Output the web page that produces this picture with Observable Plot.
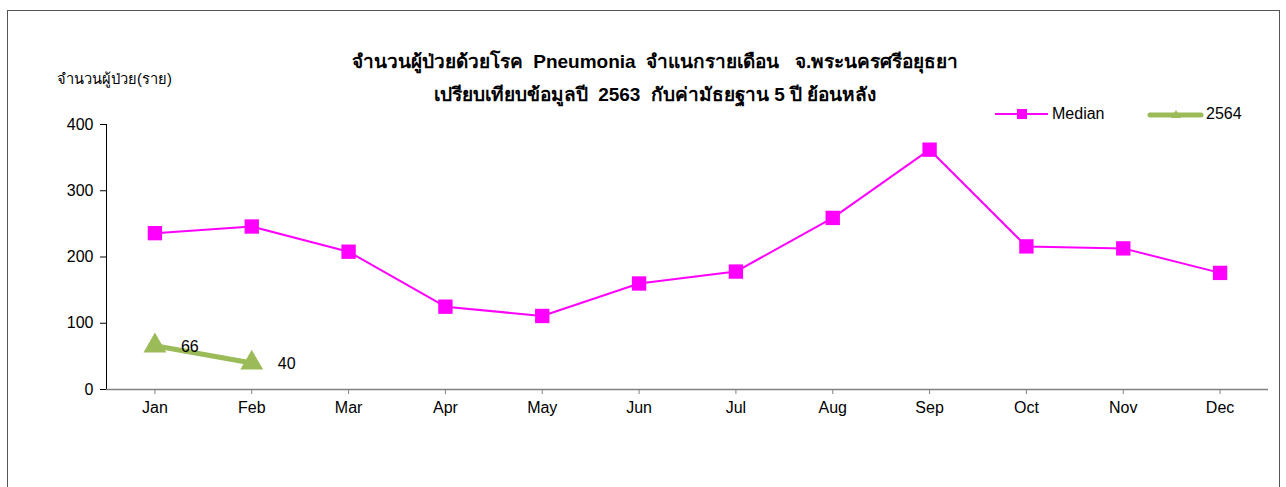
<!DOCTYPE html>
<html><head><meta charset="utf-8">
<script src="https://cdn.jsdelivr.net/npm/d3@7"></script>
<script src="https://cdn.jsdelivr.net/npm/@observablehq/plot@0.6"></script>
<style>
body{margin:0;background:#fff;font-family:"Liberation Sans",Arial,"Noto Sans","DejaVu Sans",sans-serif;color:#000}
#wrap{position:relative;width:1286px;height:487px;overflow:hidden;background:#fff}
#frame{position:absolute;left:7px;top:10px;width:1273px;height:520px;border:1px solid #555;box-sizing:border-box;pointer-events:none}
#chart{position:absolute;left:0;top:0}
.title{position:absolute;left:255px;width:800px;text-align:center;font-weight:bold;font-size:19px;white-space:nowrap}
#ylab{position:absolute;left:57px;top:67px;font-size:14.7px;white-space:nowrap}
.leg{position:absolute;font-size:16px;white-space:nowrap;display:flex;align-items:center}
</style></head>
<body>
<div id="wrap">
  <div id="chart"></div>
  <div class="title" style="top:46px">จำนวนผู้ป่วยด้วยโรค&nbsp; Pneumonia&nbsp; จำแนกรายเดือน&nbsp;&nbsp; จ.พระนครศรีอยุธยา</div>
  <div class="title" style="top:79px">เปรียบเทียบข้อมูลปี&nbsp; 2563&nbsp; กับค่ามัธยฐาน 5 ปี ย้อนหลัง</div>
  <div id="ylab">จำนวนผู้ป่วย(ราย)</div>
  <div class="leg" style="left:995px;top:104px">
    <svg width="55" height="20"><line x1="0" y1="10" x2="53" y2="10" stroke="#FF00FF" stroke-width="2"/><rect x="22" y="5" width="10" height="10" fill="#FF00FF"/></svg>
    <span style="margin-left:2px">Median</span>
  </div>
  <div class="leg" style="left:1147px;top:104px">
    <svg width="58" height="20"><line x1="3" y1="11" x2="54" y2="11" stroke="#9BBB59" stroke-width="5" stroke-linecap="round"/><path d="M29 6 L34 14 L24 14 Z" fill="#9BBB59"/></svg>
    <span style="margin-left:1px">2564</span>
  </div>
  <div id="frame"></div>
</div>
<script>
const months = ["Jan","Feb","Mar","Apr","May","Jun","Jul","Aug","Sep","Oct","Nov","Dec"];
const medianValues = [236, 246, 208, 125, 111, 160, 178, 259, 362, 216, 213, 176];
const values2564 = [66, 40];
const yTicks = [0, 100, 200, 300, 400];

const medianData = months.map((m, i) => ({month: m, value: medianValues[i]}));
const data2564 = values2564.map((v, i) => ({month: months[i], value: v}));

const chart = Plot.plot({
  width: 1286,
  height: 487,
  marginLeft: 106,
  marginRight: 18,
  marginTop: 124,
  marginBottom: 98,
  style: {fontFamily: '"Liberation Sans", Arial, sans-serif', fontSize: "16px", color: "#000", background: "transparent", overflow: "visible"},
  x: {type: "point", domain: months, padding: 0.5, round: false, label: null},
  y: {domain: [0, 400], label: null},
  marks: [
    Plot.axisY({ticks: yTicks, tickSize: 6, tickPadding: 7, label: null, stroke: "#000", fontSize: 16}),
    Plot.axisX({tickSize: 5, tickPadding: 7, label: null, stroke: "#808080", fontSize: 16}),
    Plot.frame({anchor: "left", stroke: "#000"}),
    Plot.ruleY([0], {stroke: "#808080", strokeWidth: 1.5}),
    Plot.line(medianData, {x: "month", y: "value", stroke: "#FF00FF", strokeWidth: 2}),
    Plot.dot(medianData, {x: "month", y: "value", symbol: "square", r: 8.1, fill: "#FF00FF", stroke: "none"}),
    Plot.line(data2564, {x: "month", y: "value", stroke: "#9BBB59", strokeWidth: 5}),
    Plot.dot(data2564, {x: "month", y: "value", symbol: "triangle", r: 8.5, fill: "#9BBB59", stroke: "none"}),
    Plot.text(data2564, {x: "month", y: "value", text: d => String(d.value), dx: 26, dy: 1, textAnchor: "start", fontSize: 16, fill: "#000"})
  ]
});
document.getElementById("chart").appendChild(chart);
</script>
</body></html>
